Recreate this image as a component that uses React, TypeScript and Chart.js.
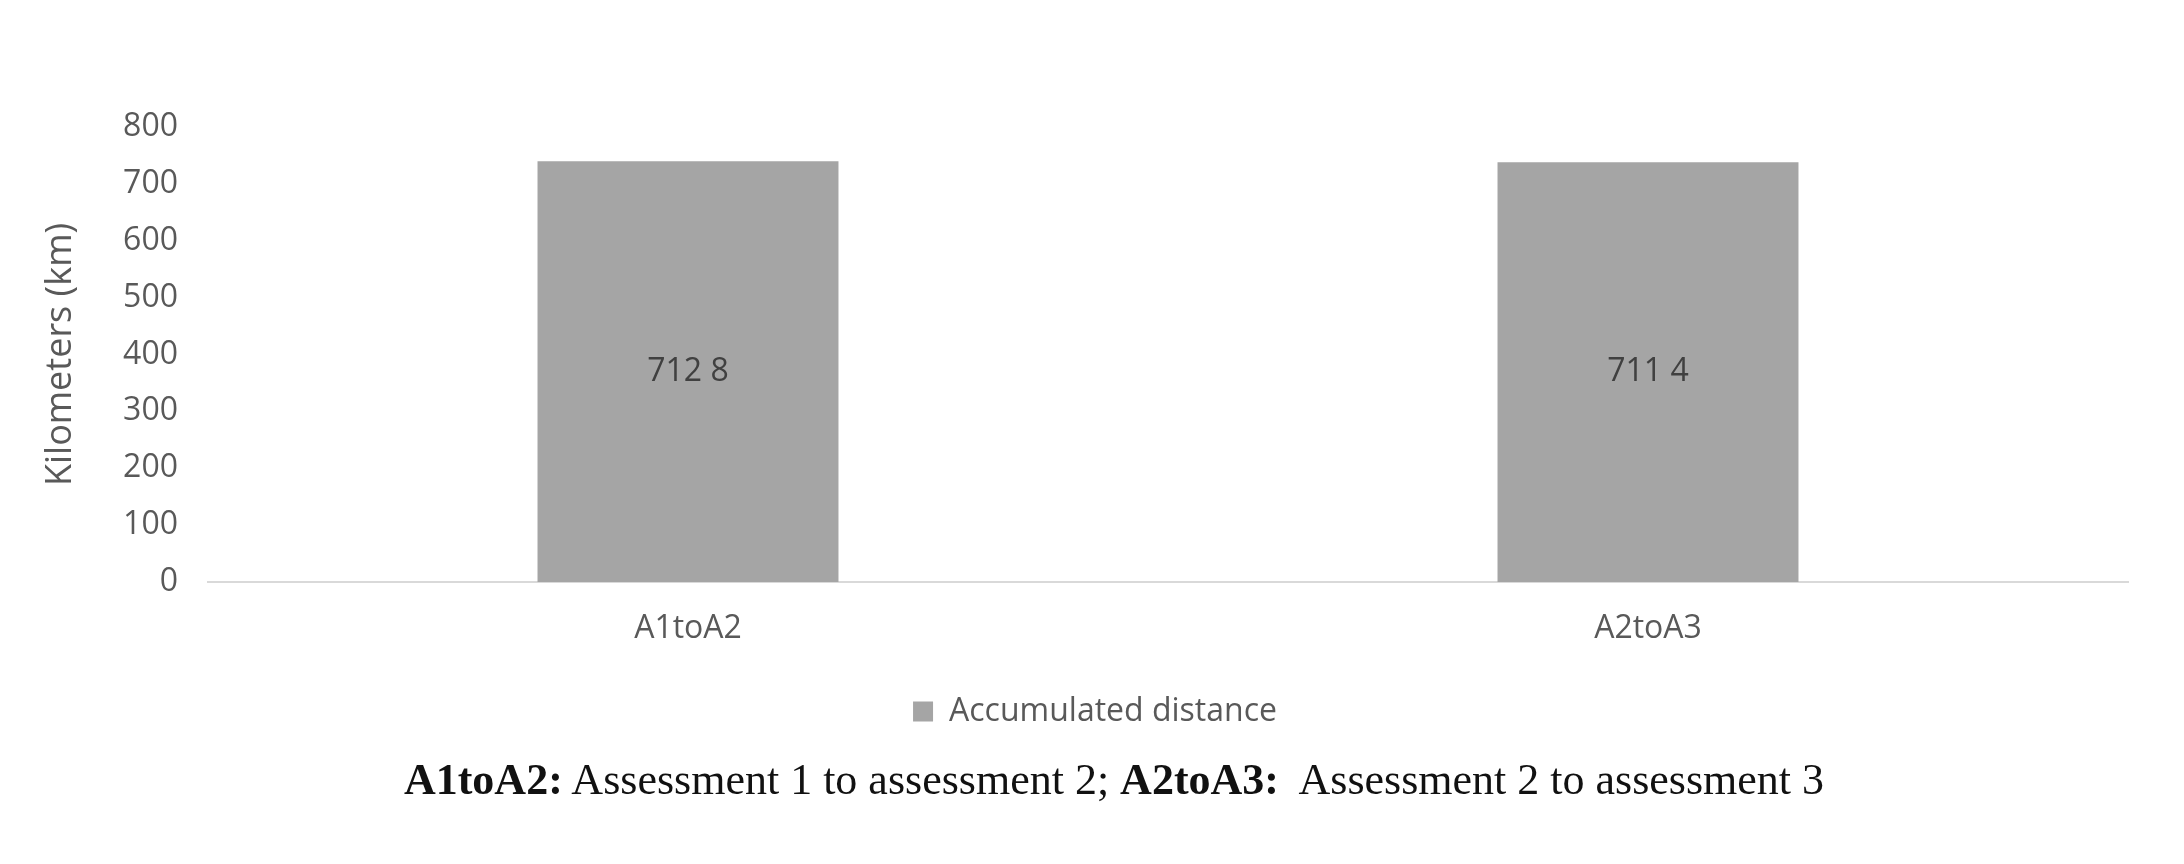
import React, { useEffect, useRef } from "react";
import { Chart, registerables } from "chart.js";

Chart.register(...registerables);

const categories = ["A1toA2", "A2toA3"];
const distanceValues = [740, 738];
const valueLabels = ["712 8", "711 4"];
const seriesLabel = "Accumulated distance";
const yAxisTitle = "Kilometers (km)";
const yMin = 0;
const yMax = 800;
const yStep = 100;
const captionParts = [
  { text: "A1toA2:", bold: true },
  { text: " Assessment 1 to assessment 2; ", bold: false },
  { text: "A2toA3:", bold: true },
  { text: "  Assessment 2 to assessment 3", bold: false },
];

const FONT = "'Open Sans', 'Noto Sans', sans-serif";
const TEXT = "#595959";

export default function App() {
  const ref = useRef<HTMLCanvasElement>(null);

  useEffect(() => {
    const canvas = ref.current!;
    const labelPlugin = {
      id: "barValueLabels",
      afterDatasetsDraw(chart: any) {
        const ctx = chart.ctx;
        const meta = chart.getDatasetMeta(0);
        ctx.save();
        ctx.font = `32px ${FONT}`;
        ctx.fillStyle = "#404040";
        ctx.textAlign = "center";
        ctx.textBaseline = "middle";
        meta.data.forEach((bar: any, i: number) => {
          const p = bar.getProps(["x", "y", "base"], true);
          ctx.fillText(valueLabels[i], p.x, (p.y + p.base) / 2);
        });
        ctx.restore();
      },
    };

    const chart = new Chart(canvas, {
      type: "bar",
      data: {
        labels: categories,
        datasets: [
          {
            label: seriesLabel,
            data: distanceValues,
            backgroundColor: "#a5a5a5",
            borderWidth: 0,
            barPercentage: 0.3135,
            categoryPercentage: 1,
          },
        ],
      },
      options: {
        responsive: false,
        maintainAspectRatio: false,
        animation: false,
        layout: { padding: { top: 127, right: 56, bottom: 126.5, left: 62 } },
        plugins: {
          legend: {
            position: "bottom",
            labels: {
              boxWidth: 20,
              boxHeight: 20,
              padding: 48.5,
              color: TEXT,
              font: { family: FONT, size: 32 },
            },
          },
          tooltip: { enabled: false },
        },
        scales: {
          x: {
            grid: { display: false, drawTicks: false },
            border: { display: true, color: "#d9d9d9", width: 2 },
            ticks: { color: TEXT, font: { family: FONT, size: 32 }, padding: 28 },
            afterFit: (s: any) => {
              s.height = 65;
            },
          },
          y: {
            min: yMin,
            max: yMax,
            ticks: { stepSize: yStep, color: TEXT, font: { family: FONT, size: 32 }, padding: 30 },
            grid: { display: false, drawTicks: false },
            border: { display: false },
            title: {
              display: true,
              text: yAxisTitle,
              color: TEXT,
              font: { family: FONT, size: 36 },
              padding: { top: -22.6, bottom: 0 },
            },
            afterFit: (s: any) => {
              s.width = 146;
            },
          },
        },
      },
      plugins: [labelPlugin],
    } as any);
    return () => chart.destroy();
  }, []);

  return (
    <div
      style={{
        position: "fixed",
        left: 0,
        top: 0,
        width: 2184,
        height: 864,
        background: "#ffffff",
        overflow: "hidden",
      }}
    >
      <canvas ref={ref} width={2184} height={864} style={{ width: 2184, height: 864, display: "block" }} />
      <div
        style={{
          position: "absolute",
          left: 0,
          width: 2228,
          top: 758,
          textAlign: "center",
          fontFamily: "'Liberation Serif', serif",
          fontSize: 44,
          lineHeight: 1,
          color: "#111111",
          whiteSpace: "pre",
        }}
      >
        {captionParts.map((p, i) => (
          <span key={i} style={{ fontWeight: p.bold ? "bold" : "normal" }}>
            {p.text}
          </span>
        ))}
      </div>
    </div>
  );
}
